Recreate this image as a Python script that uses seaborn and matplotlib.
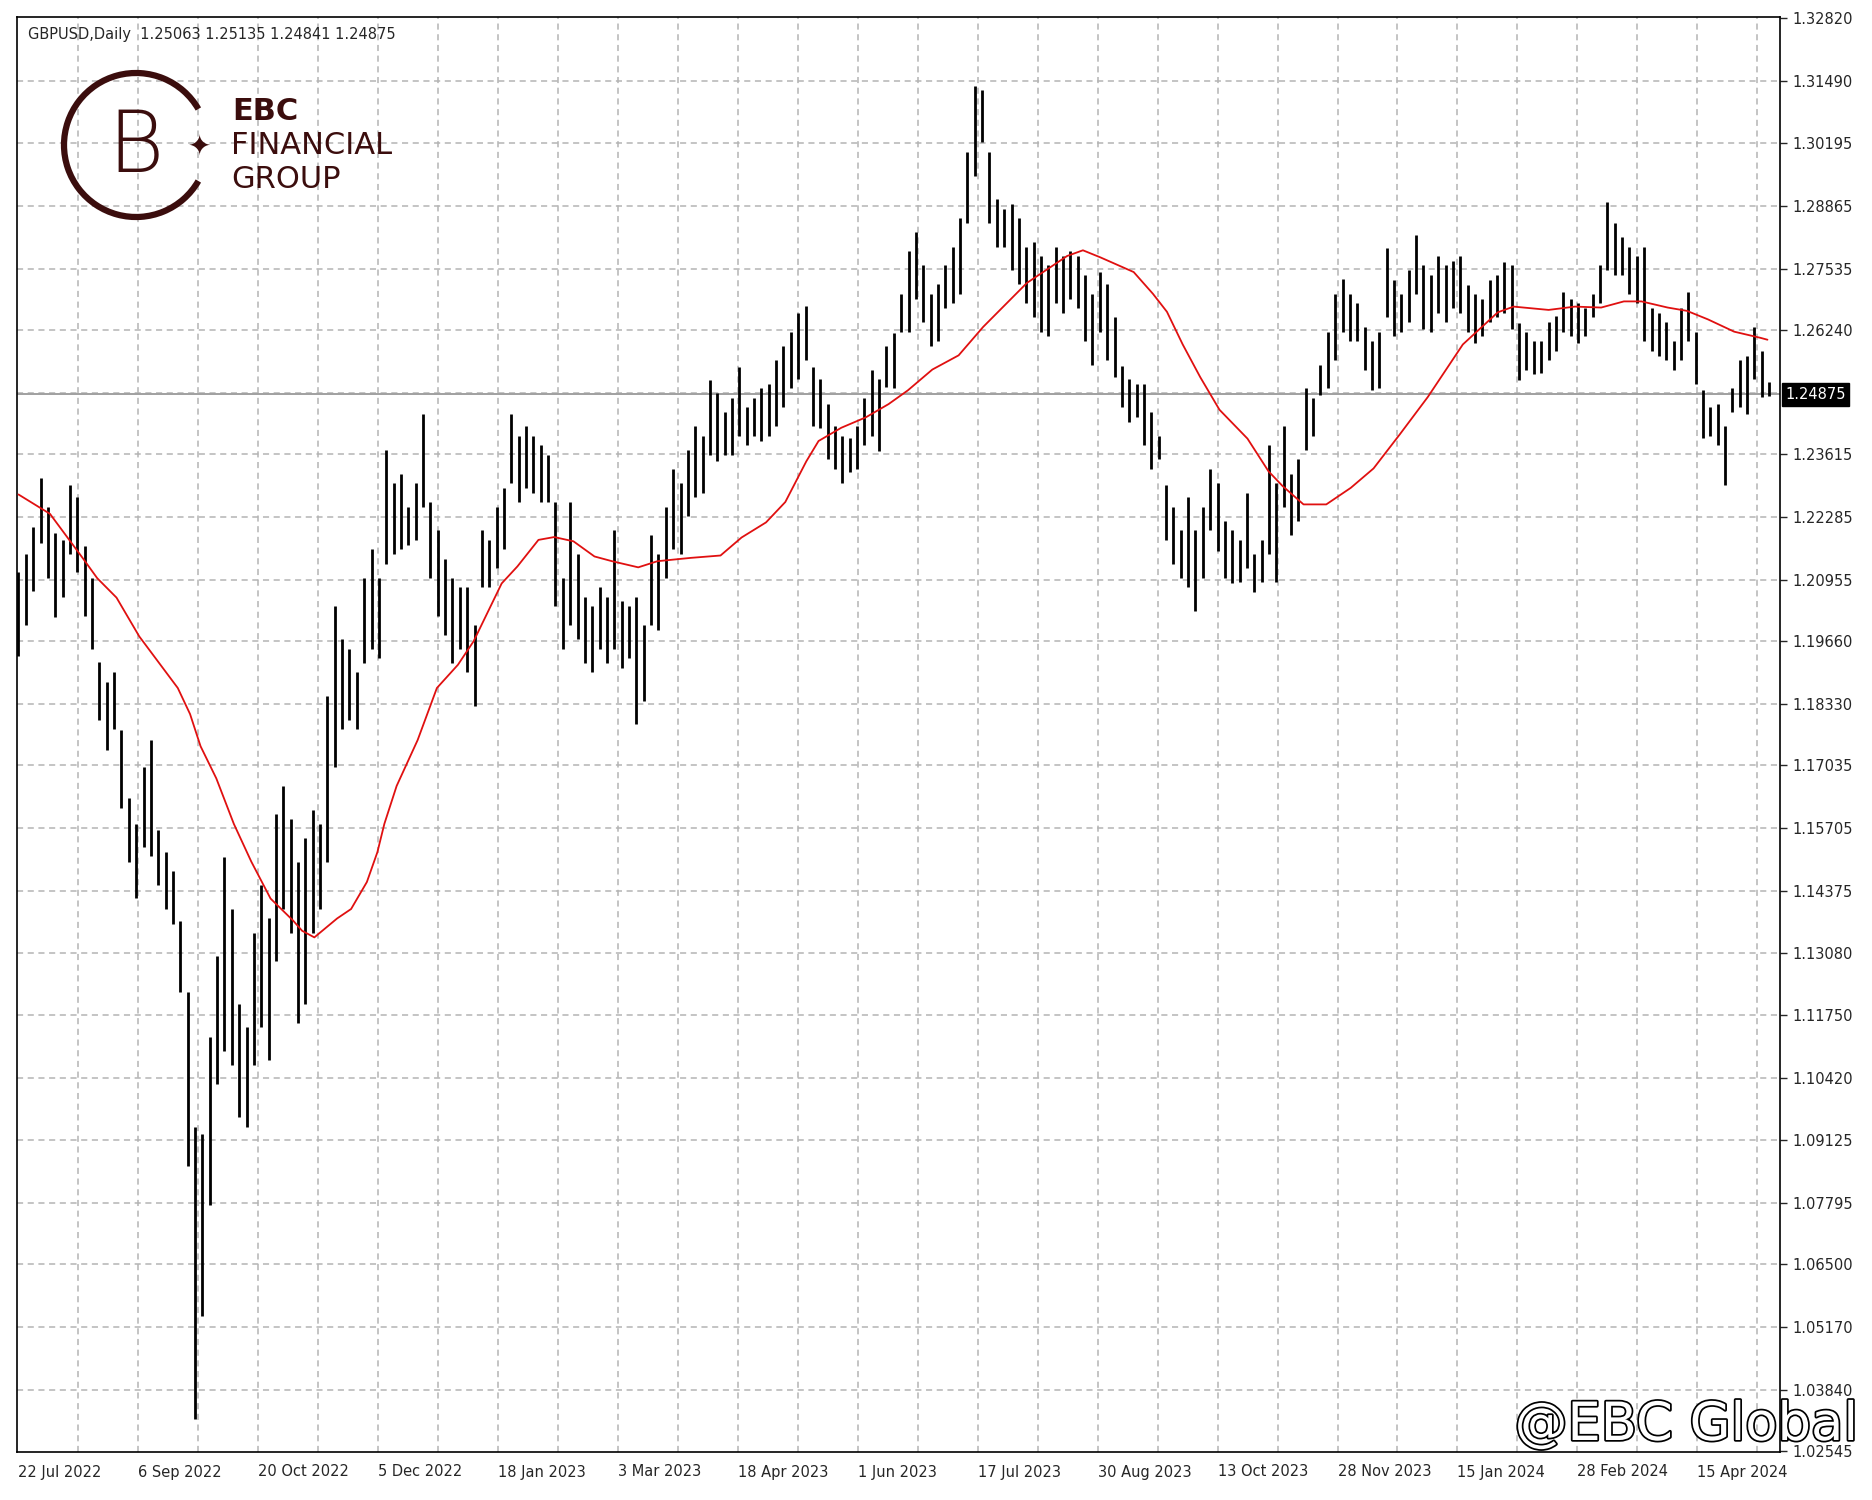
import numpy as np
import pandas as pd
import matplotlib
matplotlib.use("Agg")
import matplotlib.pyplot as plt
import matplotlib.patheffects as pe
from matplotlib.patches import Arc
import seaborn as sns

# ---- data (2-day bars) ----
bar_high = [1.2112, 1.2150, 1.2208, 1.2310, 1.2250, 1.2194, 1.2180, 1.2296, 1.2270, 1.2167,
            1.2100, 1.1921, 1.1880, 1.1900, 1.1778, 1.1634, 1.1580, 1.1700, 1.1757, 1.1566,
            1.1520, 1.1480, 1.1375, 1.1225, 1.0940, 1.0925, 1.1129, 1.1300, 1.1510, 1.1400,
            1.1200, 1.1150, 1.1350, 1.1450, 1.1380, 1.1600, 1.1660, 1.1590, 1.1500, 1.1550,
            1.1610, 1.1580, 1.1850, 1.2040, 1.1970, 1.1950, 1.1900, 1.2100, 1.2160, 1.2100,
            1.2370, 1.2300, 1.2320, 1.2250, 1.2300, 1.2446, 1.2260, 1.2200, 1.2140, 1.2100,
            1.2080, 1.2080, 1.2000, 1.2200, 1.2180, 1.2250, 1.2290, 1.2446, 1.2400, 1.2420,
            1.2400, 1.2380, 1.2360, 1.2260, 1.2100, 1.2260, 1.2150, 1.2060, 1.2040, 1.2080,
            1.2060, 1.2200, 1.2050, 1.2040, 1.2060, 1.2000, 1.2190, 1.2150, 1.2250, 1.2330,
            1.2300, 1.2370, 1.2420, 1.2400, 1.2517, 1.2490, 1.2450, 1.2480, 1.2546, 1.2460,
            1.2480, 1.2500, 1.2510, 1.2560, 1.2590, 1.2620, 1.2660, 1.2675, 1.2546, 1.2520,
            1.2467, 1.2420, 1.2400, 1.2396, 1.2420, 1.2480, 1.2539, 1.2520, 1.2590, 1.2618,
            1.2700, 1.2790, 1.2830, 1.2760, 1.2700, 1.2720, 1.2760, 1.2800, 1.2860, 1.3000,
            1.3140, 1.3130, 1.3000, 1.2900, 1.2880, 1.2890, 1.2860, 1.2800, 1.2810, 1.2780,
            1.2760, 1.2800, 1.2780, 1.2790, 1.2780, 1.2740, 1.2700, 1.2746, 1.2720, 1.2650,
            1.2547, 1.2520, 1.2510, 1.2510, 1.2450, 1.2400, 1.2295, 1.2250, 1.2200, 1.2270,
            1.2200, 1.2250, 1.2330, 1.2300, 1.2220, 1.2200, 1.2180, 1.2280, 1.2150, 1.2180,
            1.2380, 1.2300, 1.2420, 1.2320, 1.2350, 1.2500, 1.2480, 1.2550, 1.2620, 1.2700,
            1.2732, 1.2700, 1.2680, 1.2630, 1.2600, 1.2620, 1.2797, 1.2730, 1.2700, 1.2750,
            1.2825, 1.2760, 1.2740, 1.2780, 1.2760, 1.2770, 1.2780, 1.2718, 1.2700, 1.2690,
            1.2730, 1.2740, 1.2768, 1.2760, 1.2639, 1.2620, 1.2600, 1.2600, 1.2640, 1.2654,
            1.2704, 1.2690, 1.2680, 1.2670, 1.2700, 1.2760, 1.2893, 1.2850, 1.2820, 1.2800,
            1.2780, 1.2800, 1.2670, 1.2660, 1.2640, 1.2600, 1.2670, 1.2704, 1.2620, 1.2496,
            1.2460, 1.2467, 1.2420, 1.2500, 1.2560, 1.2568, 1.2630, 1.2580, 1.2514]
bar_low = [1.1935, 1.2000, 1.2071, 1.2174, 1.2100, 1.2017, 1.2060, 1.2150, 1.2112, 1.2020,
           1.1949, 1.1800, 1.1737, 1.1780, 1.1614, 1.1500, 1.1423, 1.1530, 1.1512, 1.1450,
           1.1400, 1.1368, 1.1225, 1.0856, 1.0323, 1.0540, 1.0774, 1.1030, 1.1100, 1.1070,
           1.0960, 1.0940, 1.1070, 1.1150, 1.1080, 1.1290, 1.1400, 1.1350, 1.1160, 1.1200,
           1.1350, 1.1400, 1.1500, 1.1700, 1.1780, 1.1800, 1.1780, 1.1920, 1.1950, 1.1930,
           1.2130, 1.2150, 1.2160, 1.2170, 1.2180, 1.2250, 1.2100, 1.2020, 1.1980, 1.1920,
           1.1950, 1.1900, 1.1830, 1.2080, 1.2080, 1.2120, 1.2160, 1.2300, 1.2260, 1.2290,
           1.2280, 1.2260, 1.2260, 1.2040, 1.1950, 1.2000, 1.1970, 1.1920, 1.1900, 1.1950,
           1.1920, 1.1950, 1.1910, 1.1930, 1.1790, 1.1840, 1.2000, 1.1990, 1.2100, 1.2160,
           1.2150, 1.2230, 1.2270, 1.2280, 1.2360, 1.2346, 1.2360, 1.2360, 1.2400, 1.2380,
           1.2400, 1.2390, 1.2400, 1.2420, 1.2460, 1.2500, 1.2520, 1.2560, 1.2420, 1.2417,
           1.2350, 1.2330, 1.2300, 1.2324, 1.2330, 1.2380, 1.2400, 1.2367, 1.2503, 1.2500,
           1.2620, 1.2620, 1.2690, 1.2640, 1.2590, 1.2600, 1.2670, 1.2680, 1.2700, 1.2850,
           1.2950, 1.3020, 1.2850, 1.2800, 1.2800, 1.2750, 1.2720, 1.2680, 1.2650, 1.2620,
           1.2610, 1.2680, 1.2660, 1.2690, 1.2670, 1.2600, 1.2550, 1.2620, 1.2560, 1.2524,
           1.2460, 1.2430, 1.2440, 1.2380, 1.2330, 1.2350, 1.2180, 1.2130, 1.2100, 1.2080,
           1.2030, 1.2100, 1.2200, 1.2157, 1.2100, 1.2088, 1.2090, 1.2120, 1.2070, 1.2090,
           1.2150, 1.2090, 1.2250, 1.2190, 1.2220, 1.2370, 1.2400, 1.2486, 1.2500, 1.2560,
           1.2620, 1.2600, 1.2600, 1.2540, 1.2496, 1.2500, 1.2650, 1.2610, 1.2620, 1.2640,
           1.2700, 1.2625, 1.2620, 1.2660, 1.2640, 1.2670, 1.2660, 1.2620, 1.2596, 1.2610,
           1.2640, 1.2650, 1.2660, 1.2625, 1.2518, 1.2540, 1.2530, 1.2532, 1.2560, 1.2580,
           1.2620, 1.2610, 1.2596, 1.2610, 1.2650, 1.2680, 1.2750, 1.2740, 1.2740, 1.2700,
           1.2680, 1.2600, 1.2580, 1.2568, 1.2560, 1.2539, 1.2560, 1.2600, 1.2510, 1.2396,
           1.2400, 1.2380, 1.2296, 1.2450, 1.2460, 1.2446, 1.2520, 1.2482, 1.2484]

# MA samples: position as fraction of the bar span (0 = first bar, 1 = last bar)
ma_frac = [0, 0.018, 0.037, 0.045, 0.056, 0.069, 0.091, 0.098, 0.104, 0.113, 0.123, 0.133,
           0.144, 0.157, 0.162, 0.169, 0.182, 0.190, 0.199, 0.205, 0.209, 0.216, 0.228, 0.239,
           0.251, 0.260, 0.276, 0.285, 0.297, 0.306, 0.317, 0.329, 0.339, 0.354, 0.365, 0.384,
           0.401, 0.413, 0.427, 0.438, 0.450, 0.457, 0.470, 0.484, 0.497, 0.508, 0.522, 0.537,
           0.551, 0.576, 0.599, 0.608, 0.618, 0.637, 0.648, 0.656, 0.665, 0.675, 0.686, 0.702,
           0.714, 0.722, 0.734, 0.747, 0.761, 0.774, 0.789, 0.805, 0.825, 0.845, 0.854, 0.874,
           0.889, 0.904, 0.917, 0.927, 0.942, 0.953, 0.965, 0.980, 0.995, 0.999]
ma_val = [1.2276, 1.2235, 1.2140, 1.2099, 1.2058, 1.1976, 1.1867, 1.1812, 1.1744, 1.1676,
          1.1580, 1.1500, 1.1422, 1.1375, 1.1354, 1.1340, 1.1380, 1.1400, 1.1457, 1.1520,
          1.1580, 1.1660, 1.1757, 1.1867, 1.1916, 1.1966, 1.2088, 1.2124, 1.2180, 1.2186,
          1.2177, 1.2145, 1.2135, 1.2122, 1.2135, 1.2142, 1.2147, 1.2185, 1.2217, 1.2260,
          1.2346, 1.2389, 1.2417, 1.2439, 1.2467, 1.2496, 1.2540, 1.2570, 1.2630, 1.2723,
          1.2780, 1.2792, 1.2777, 1.2746, 1.2700, 1.2662, 1.2593, 1.2524, 1.2455, 1.2394,
          1.2325, 1.2294, 1.2255, 1.2255, 1.2290, 1.2331, 1.2403, 1.2482, 1.2593, 1.2661,
          1.2673, 1.2666, 1.2673, 1.2671, 1.2684, 1.2684, 1.2671, 1.2664, 1.2646, 1.2620,
          1.2607, 1.2603]

price_labels = [1.32820, 1.31490, 1.30195, 1.28865, 1.27535, 1.26240, 1.23615, 1.22285,
                1.20955, 1.19660, 1.18330, 1.17035, 1.15705, 1.14375, 1.13080, 1.11750,
                1.10420, 1.09125, 1.07795, 1.06500, 1.05170, 1.03840, 1.02545]
grid_extra = [1.24910]
last_price = 1.24875
date_labels = ["22 Jul 2022", "6 Sep 2022", "20 Oct 2022", "5 Dec 2022", "18 Jan 2023",
               "3 Mar 2023", "18 Apr 2023", "1 Jun 2023", "17 Jul 2023", "30 Aug 2023",
               "13 Oct 2023", "28 Nov 2023", "15 Jan 2024", "28 Feb 2024", "15 Apr 2024"]
title = "GBPUSD,Daily  1.25063 1.25135 1.24841 1.24875"

# ---- drawing ----
sns.set_style("white")
plt.rcParams['font.family'] = ['DejaVu Sans']
fig = plt.figure(figsize=(18.72, 15), dpi=100)
W, H = 1872, 1500
ax = fig.add_axes([17 / W, 1 - 1452 / H, (1780 - 17) / W, (1452 - 17) / H])

n = len(bar_high)
span = n - 1
bars = pd.DataFrame({"x": np.arange(n), "high": bar_high, "low": bar_low})
ma = pd.DataFrame({"x": np.array(ma_frac) * span, "ma": ma_val})
step = span * 100 / 1460  # bars between date labels (100 px of 1460 px)

ax.set_xlim(-0.2, span * 1469 / 1460)
ax.set_ylim(1.02545 - 0.0002, 1.32820 + 0.0003)

# grid
for p in price_labels[1:-1] + grid_extra:
    ax.axhline(p, color="#b4b4b4", lw=1.1, ls=(0, (4, 3)), zorder=0)
for k in range(1, 30):
    ax.axvline(k * step / 2, color="#b4b4b4", lw=1.1, ls=(0, (4, 3)), zorder=0)
ax.axhline(last_price, color="#a0a0a0", lw=1.4, zorder=1)

ax.vlines(bars["x"], bars["low"], bars["high"], color="black", lw=2.0, zorder=3)
sns.lineplot(data=ma, x="x", y="ma", color="#e01010", lw=1.3, ax=ax, zorder=4, sort=False)

for s in ["top", "left", "bottom", "right"]:
    ax.spines[s].set_color("black")
    ax.spines[s].set_linewidth(1.2)

ax.yaxis.tick_right()
ax.set_yticks(price_labels)
ax.set_yticklabels([f"{p:.5f}" for p in price_labels], fontsize=10.5)
ax.tick_params(axis="y", length=5, width=1, pad=4)
ax.set_xticks([k * step for k in range(len(date_labels))])
ax.set_xticklabels(date_labels, fontsize=10.5, ha="left")
ax.tick_params(axis="x", length=6, width=1, pad=3)
ax.set_xlabel("")
ax.set_ylabel("")

ax.text(1.003, last_price, f"{last_price:.5f}", transform=ax.get_yaxis_transform(),
        fontsize=10.5, color="white", va="center", ha="left",
        bbox=dict(boxstyle="square,pad=0.25", fc="black", ec="black"), zorder=10, clip_on=False)

ax.text(0.006, 0.993, title, transform=ax.transAxes, fontsize=10.5, va="top", ha="left")

# logo
brown = "#3b0d0d"
lax = fig.add_axes([0, 0, 1, 1], facecolor="none")
lax.set_xlim(0, W)
lax.set_ylim(H, 0)
lax.axis("off")
lax.add_patch(Arc((136, 145), 144, 144, theta1=30, theta2=330, color=brown, lw=4.5))
lax.text(136, 148, "B", fontsize=62, color=brown, ha="center", va="center", fontweight="light")
lax.text(199, 146, "✦", fontsize=20, color=brown, ha="center", va="center")
lax.text(232, 111, "EBC", fontsize=22, color=brown, fontweight="bold", va="center")
lax.text(231, 146, "FINANCIAL", fontsize=22, color=brown, va="center")
lax.text(231, 180, "GROUP", fontsize=22, color=brown, va="center")

# watermark
lax.text(1858, 1440, "@EBC Global", fontsize=38, color="white", ha="right", va="baseline",
         path_effects=[pe.withStroke(linewidth=2.5, foreground="black")], zorder=20)

fig.savefig("out.png", dpi=100, facecolor="white")
